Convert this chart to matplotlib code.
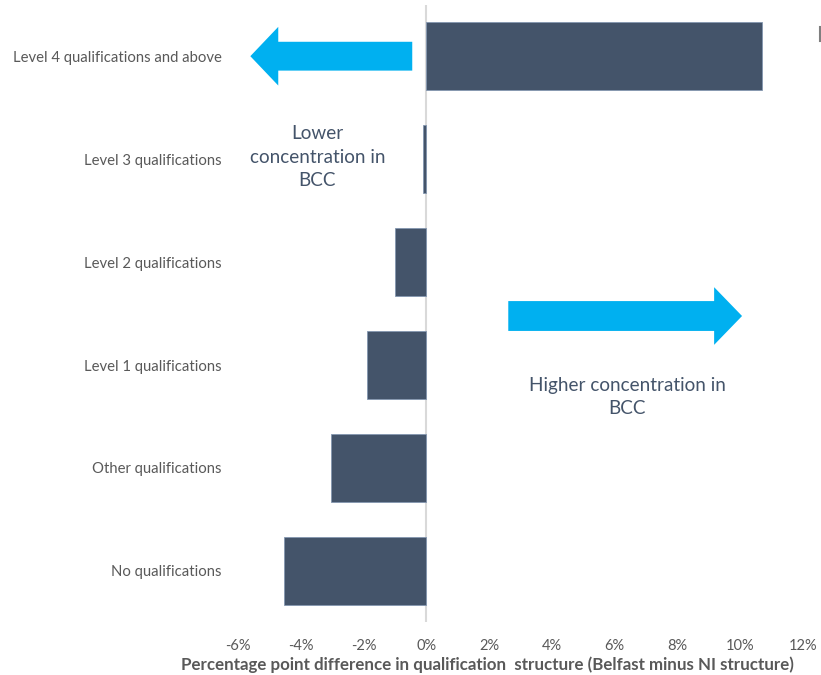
import numpy as np
import matplotlib.pyplot as plt
from matplotlib.patches import FancyArrow
from matplotlib.lines import Line2D

plt.rcParams['font.family'] = ['Lato', 'DejaVu Sans']

categories = ['No qualifications', 'Other qualifications', 'Level 1 qualifications',
              'Level 2 qualifications', 'Level 3 qualifications',
              'Level 4 qualifications and above']
values = [-4.55, -3.05, -1.9, -1.0, -0.1, 10.7]
xticks = [-6, -4, -2, 0, 2, 4, 6, 8, 10, 12]

bar_col = '#44546A'
arrow_col = '#00B0F0'
text_col = '#595959'

fig = plt.figure(figsize=(8.21, 6.75), dpi=100)
ax = fig.add_axes([0.290, 0.078, 0.688, 0.915])

y = np.arange(len(categories))
ax.barh(y, values, height=0.66, color=bar_col, edgecolor='#8497B0', linewidth=0.6, zorder=3)
ax.axvline(0, color='#D9D9D9', linewidth=1.5, zorder=2)

ax.set_xlim(-6, 12)
ax.set_ylim(-0.5, len(categories) - 0.5)
ax.set_xticks(xticks)
ax.set_xticklabels([f'{t}%' for t in xticks], color=text_col, fontsize=10.5)
ax.set_yticks(y)
ax.set_yticklabels(categories, color=text_col, fontsize=10.7)
ax.tick_params(length=0, axis='y', pad=12)
ax.tick_params(length=0, axis='x', pad=12)
for s in ax.spines.values():
    s.set_visible(False)

# arrows
ax.add_patch(FancyArrow(-0.45, 5, -5.16, 0, width=0.28, head_width=0.57,
                        head_length=0.89, length_includes_head=True,
                        color=arrow_col, linewidth=0, zorder=4))
ax.add_patch(FancyArrow(2.61, 2.476, 7.45, 0, width=0.29, head_width=0.56,
                        head_length=0.89, length_includes_head=True,
                        color=arrow_col, linewidth=0, zorder=4))

ax.text(-3.47, 4.02, 'Lower\nconcentration in\nBCC', ha='center', va='center',
        fontsize=13.6, color=bar_col, linespacing=1.45)
ax.text(6.40, 1.69, 'Higher concentration in\nBCC', ha='center', va='center',
        fontsize=13.6, color=bar_col, linespacing=1.45)

fig.text(487 / 821, 1 - 665 / 675,
         'Percentage point difference in qualification  structure (Belfast minus NI structure)',
         ha='center', va='center', fontsize=12.2, fontweight='bold', color=text_col)

# clipped legend edge at the top right
fig.add_artist(Line2D([819.5 / 821, 819.5 / 821], [1 - 27 / 675, 1 - 41 / 675],
                      transform=fig.transFigure, color='#7F7F7F', linewidth=1.5))

fig.savefig('out.png', dpi=100)
